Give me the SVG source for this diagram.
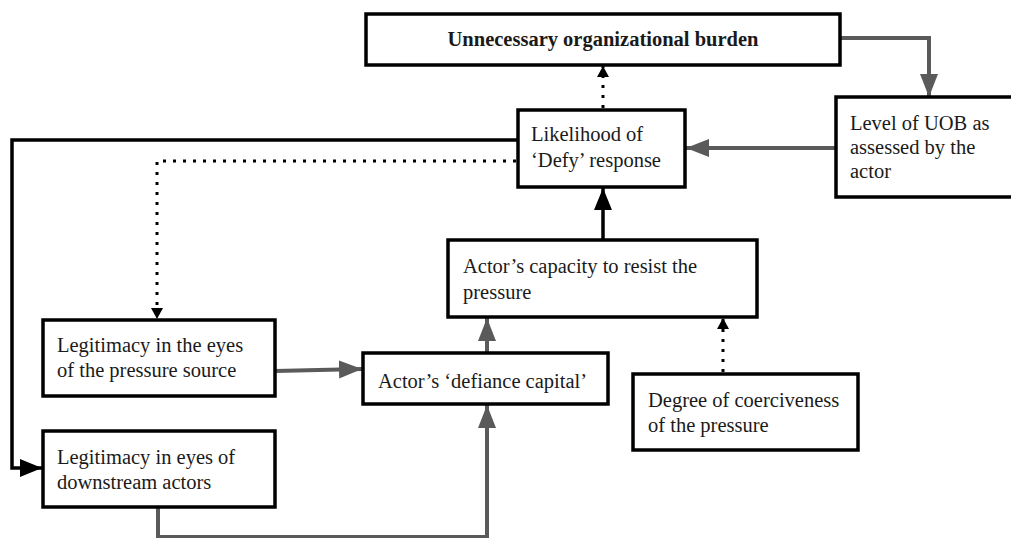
<svg xmlns="http://www.w3.org/2000/svg" width="1011" height="538" viewBox="0 0 1011 538">
  <style>
    .box { fill: #ffffff; stroke: #000000; stroke-width: 3.5; }
    .lbl { font-family: "Liberation Serif", "Times New Roman", serif; font-size: 20.5px; fill: #1a1a1a; }
    .title { font-weight: bold; text-anchor: middle; }
    .gray { fill: none; stroke: #5a5a5a; stroke-width: 4; }
    .solid { fill: none; stroke: #000000; stroke-width: 3.5; }
    .dot { fill: none; stroke: #000000; stroke-width: 3; stroke-dasharray: 3 7; }
  </style>
  <defs>
    <marker id="headGray" markerUnits="userSpaceOnUse" markerWidth="24" markerHeight="20" refX="23" refY="9" orient="auto">
      <path d="M0,0 L23,9 L0,18 Z" fill="#5a5a5a"/>
    </marker>
    <marker id="headBlack" markerUnits="userSpaceOnUse" markerWidth="24" markerHeight="20" refX="22" refY="9" orient="auto">
      <path d="M0,0 L22,9 L0,18 Z" fill="#000000"/>
    </marker>
    <marker id="headSmall" markerUnits="userSpaceOnUse" markerWidth="12" markerHeight="14" refX="11" refY="6" orient="auto">
      <path d="M0,0 L11,6 L0,12 Z" fill="#000000"/>
    </marker>
  </defs>

  <!-- connectors -->
  <g id="connectors">
    <!-- burden -> level of UOB -->
    <path class="gray" d="M840,38 H929 V97" marker-end="url(#headGray)"/>
    <!-- level of UOB -> likelihood -->
    <path class="gray" d="M836,148 H686" marker-end="url(#headGray)"/>
    <!-- likelihood -> burden (dotted) -->
    <path class="dot" d="M603,108 V66" marker-end="url(#headSmall)"/>
    <!-- capacity -> likelihood -->
    <path class="solid" d="M603,240 V188" marker-end="url(#headBlack)"/>
    <!-- likelihood -> downstream legitimacy -->
    <path class="solid" d="M518,140 H12 V468 H42" marker-end="url(#headBlack)"/>
    <!-- likelihood -> pressure-source legitimacy (dotted) -->
    <path class="dot" d="M516,161 H157 V319" marker-end="url(#headSmall)"/>
    <!-- pressure-source legitimacy -> defiance capital -->
    <path class="gray" d="M275,371 L362,369" marker-end="url(#headGray)"/>
    <!-- defiance capital -> capacity -->
    <path class="gray" d="M487,353 V318" marker-end="url(#headGray)"/>
    <!-- downstream legitimacy -> defiance capital -->
    <path class="gray" d="M158,507 V537 H487 V405" marker-end="url(#headGray)"/>
    <!-- coerciveness -> capacity (dotted) -->
    <path class="dot" d="M723,372 V318" marker-end="url(#headSmall)"/>
  </g>

  <g id="burden">
    <rect class="box" x="366" y="14" width="474" height="51"/>
    <text class="lbl title" x="603" y="46">Unnecessary organizational burden</text>
  </g>

  <g id="level-uob">
    <!-- runs past the right edge of the canvas -->
    <rect class="box" x="836" y="97" width="180" height="100"/>
    <text class="lbl" x="850" y="130">Level of UOB as</text>
    <text class="lbl" x="850" y="154">assessed by the</text>
    <text class="lbl" x="850" y="178">actor</text>
  </g>

  <g id="likelihood">
    <rect class="box" x="518" y="110" width="167" height="77"/>
    <text class="lbl" x="531" y="141">Likelihood of</text>
    <text class="lbl" x="531" y="167">‘Defy’ response</text>
  </g>

  <g id="capacity">
    <rect class="box" x="448" y="240" width="309" height="77"/>
    <text class="lbl" x="463" y="273">Actor’s capacity to resist the</text>
    <text class="lbl" x="463" y="299">pressure</text>
  </g>

  <g id="legit-source">
    <rect class="box" x="43" y="320" width="232" height="76"/>
    <text class="lbl" x="57" y="352">Legitimacy in the eyes</text>
    <text class="lbl" x="57" y="377">of the pressure source</text>
  </g>

  <g id="defiance">
    <rect class="box" x="363" y="353" width="245" height="51"/>
    <text class="lbl" x="378" y="388">Actor’s ‘defiance capital’</text>
  </g>

  <g id="coerciveness">
    <rect class="box" x="633" y="374" width="225" height="76"/>
    <text class="lbl" x="648" y="407">Degree of coerciveness</text>
    <text class="lbl" x="648" y="432">of the pressure</text>
  </g>

  <g id="legit-downstream">
    <rect class="box" x="43" y="431" width="232" height="76"/>
    <text class="lbl" x="57" y="464">Legitimacy in eyes of</text>
    <text class="lbl" x="57" y="489">downstream actors</text>
  </g>
</svg>
